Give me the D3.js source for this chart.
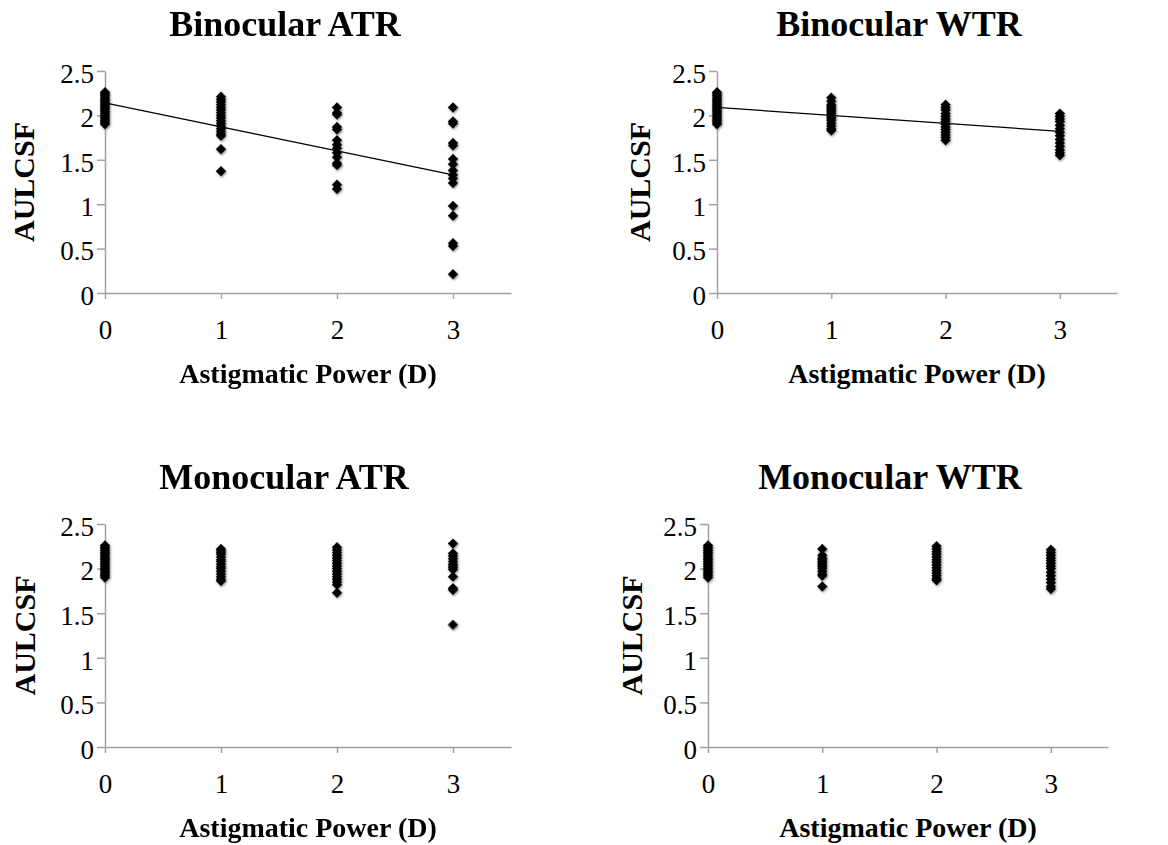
<!DOCTYPE html>
<html>
<head>
<meta charset="utf-8">
<script src="https://cdn.jsdelivr.net/npm/d3@7"></script>
<style>
  body { margin: 0; background: #fff; }
  svg { display: block; font-family: "Liberation Serif", "Times New Roman", serif; }
  .tick text { fill: #000; }
  .domain, .tick line { stroke: #a0a0a0; stroke-width: 1.5px; }
</style>
</head>
<body>
<svg id="chart" width="1168" height="845"></svg>
<script>
// x categories and tick labels
const powers = [0, 1, 2, 3];
const yTicks = [0, 0.5, 1, 1.5, 2, 2.5];

// Binocular ATR, AULCSF per astigmatic power
const binoATR0 = [2.26, 2.24, 2.22, 2.20, 2.18, 2.16, 2.14, 2.12, 2.10, 2.08, 2.06, 2.04, 2.02, 2.00, 1.98, 1.96, 1.94, 1.92, 1.90];
const binoATR1 = [2.21, 2.18, 2.15, 2.12, 2.09, 2.06, 2.03, 2.00, 1.97, 1.94, 1.91, 1.88, 1.85, 1.82, 1.79, 1.77, 1.62, 1.37];
const binoATR2 = [2.09, 2.03, 2.01, 1.87, 1.84, 1.72, 1.67, 1.63, 1.58, 1.53, 1.46, 1.44, 1.22, 1.17];
const binoATR3 = [2.09, 1.93, 1.91, 1.69, 1.66, 1.51, 1.45, 1.38, 1.33, 1.29, 1.24, 0.98, 0.87, 0.56, 0.53, 0.21];
const binoATRFit = [2.14, 1.33];

// Binocular WTR
const binoWTR0 = [2.26, 2.24, 2.22, 2.20, 2.18, 2.16, 2.14, 2.12, 2.10, 2.08, 2.06, 2.04, 2.02, 2.00, 1.98, 1.96, 1.94, 1.92, 1.90];
const binoWTR1 = [2.20, 2.16, 2.12, 2.10, 2.08, 2.06, 2.04, 2.02, 2.00, 1.98, 1.96, 1.94, 1.91, 1.88, 1.85, 1.83];
const binoWTR2 = [2.12, 2.09, 2.06, 2.02, 1.99, 1.96, 1.93, 1.90, 1.87, 1.84, 1.81, 1.78, 1.75, 1.72];
const binoWTR3 = [2.02, 1.99, 1.96, 1.93, 1.89, 1.85, 1.81, 1.77, 1.73, 1.69, 1.65, 1.61, 1.58, 1.55];
const binoWTRFit = [2.09, 1.82];

// Monocular ATR
const monoATR0 = [2.26, 2.24, 2.22, 2.20, 2.18, 2.16, 2.14, 2.12, 2.10, 2.08, 2.06, 2.04, 2.02, 2.00, 1.98, 1.96, 1.94, 1.92, 1.90];
const monoATR1 = [2.22, 2.20, 2.18, 2.16, 2.13, 2.10, 2.08, 2.05, 2.02, 2.00, 1.97, 1.94, 1.91, 1.88, 1.86];
const monoATR2 = [2.24, 2.21, 2.18, 2.15, 2.12, 2.09, 2.06, 2.03, 2.00, 1.97, 1.94, 1.91, 1.88, 1.85, 1.82, 1.73];
const monoATR3 = [2.28, 2.17, 2.14, 2.11, 2.08, 2.05, 2.03, 2.01, 1.99, 1.91, 1.78, 1.76, 1.37];

// Monocular WTR
const monoWTR0 = [2.26, 2.24, 2.22, 2.20, 2.18, 2.16, 2.14, 2.12, 2.10, 2.08, 2.06, 2.04, 2.02, 2.00, 1.98, 1.96, 1.94, 1.92, 1.90];
const monoWTR1 = [2.22, 2.15, 2.12, 2.10, 2.08, 2.06, 2.04, 2.02, 2.00, 1.97, 1.94, 1.92, 1.80];
const monoWTR2 = [2.25, 2.22, 2.19, 2.16, 2.13, 2.10, 2.07, 2.04, 2.01, 1.98, 1.95, 1.92, 1.89, 1.87];
const monoWTR3 = [2.21, 2.18, 2.15, 2.12, 2.09, 2.06, 2.03, 2.00, 1.96, 1.92, 1.88, 1.84, 1.80, 1.77];

const panels = [
    {title: 'Binocular ATR', cols: [binoATR0, binoATR1, binoATR2, binoATR3], fit: binoATRFit,
     box: {l: 105, r: 511, t: 71, b: 293}, titleX: 285, yLabelX: 34},
    {title: 'Binocular WTR', cols: [binoWTR0, binoWTR1, binoWTR2, binoWTR3], fit: binoWTRFit,
     box: {l: 717, r: 1117, t: 71, b: 293}, titleX: 899, yLabelX: 650},
    {title: 'Monocular ATR', cols: [monoATR0, monoATR1, monoATR2, monoATR3], fit: null,
     box: {l: 105, r: 511, t: 524, b: 747}, titleX: 284, yLabelX: 35},
    {title: 'Monocular WTR', cols: [monoWTR0, monoWTR1, monoWTR2, monoWTR3], fit: null,
     box: {l: 708, r: 1108, t: 524, b: 747}, titleX: 890, yLabelX: 642}
];

const serif = '"Liberation Serif", "Times New Roman", serif';
const svg = d3.select('#chart');

// soft grey halo round each marker, like the source image
const filter = svg.append('defs').append('filter')
    .attr('id', 'soft')
    .attr('x', '-50%').attr('y', '-50%').attr('width', '200%').attr('height', '200%');
filter.append('feDropShadow')
    .attr('dx', 0.8).attr('dy', 1.2)
    .attr('stdDeviation', 1)
    .attr('flood-color', '#777')
    .attr('flood-opacity', 0.8);

const marker = d3.symbol().type(d3.symbolSquare).size(55);

panels.forEach(p => {
    const {l, r, t, b} = p.box;
    const x = d3.scaleLinear().domain([0, 3.5]).range([l, r]);
    const y = d3.scaleLinear().domain([0, 2.5]).range([b, t]);
    const g = svg.append('g');

    g.append('g')
        .attr('transform', `translate(0,${b})`)
        .call(d3.axisBottom(x).tickValues(powers).tickSize(6).tickSizeOuter(0).tickPadding(31).tickFormat(d => d))
        .attr('font-family', serif)
        .attr('font-size', 27)
        .call(a => a.selectAll('.tick text').attr('dy', '0.32em'));

    g.append('g')
        .attr('transform', `translate(${l},0)`)
        .call(d3.axisLeft(y).tickValues(yTicks).tickSize(8).tickSizeOuter(0).tickPadding(3).tickFormat(d => d))
        .attr('font-family', serif)
        .attr('font-size', 27)
        .call(a => a.selectAll('.tick text').attr('dy', '0.42em'));

    // points
    const pts = p.cols.flatMap((vals, i) => vals.map(v => ({x: powers[i], v})));
    g.append('g')
        .attr('filter', 'url(#soft)')
        .selectAll('path')
        .data(pts)
        .enter()
        .append('path')
        .attr('d', marker)
        .attr('fill', '#000')
        .attr('transform', d => `translate(${x(d.x)},${y(d.v)}) rotate(45)`);

    // linear trend
    if (p.fit) {
        g.append('path')
            .datum([[0, p.fit[0]], [3, p.fit[1]]])
            .attr('fill', 'none')
            .attr('stroke', '#000')
            .attr('stroke-width', 1.3)
            .attr('d', d3.line().x(d => x(d[0])).y(d => y(d[1])));
    }

    g.append('text')
        .attr('x', p.titleX)
        .attr('y', t - 35)
        .attr('text-anchor', 'middle')
        .style('font-size', '36px')
        .style('font-weight', 'bold')
        .text(p.title);

    g.append('text')
        .attr('x', (l + r) / 2)
        .attr('y', b + 90)
        .attr('text-anchor', 'middle')
        .style('font-size', '28px')
        .style('font-weight', 'bold')
        .text('Astigmatic Power (D)');

    g.append('text')
        .attr('transform', `translate(${p.yLabelX},${(t + b) / 2}) rotate(-90)`)
        .attr('text-anchor', 'middle')
        .style('font-size', '30px')
        .style('font-weight', 'bold')
        .text('AULCSF');
});
</script>
</body>
</html>
